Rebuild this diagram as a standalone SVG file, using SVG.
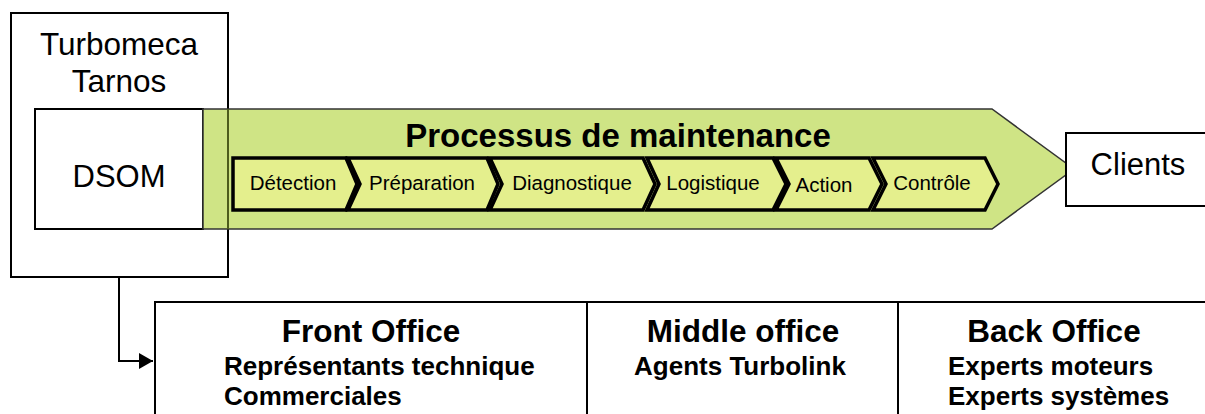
<svg xmlns="http://www.w3.org/2000/svg" width="1205" height="414" viewBox="0 0 1205 414">
<style>
.box{fill:#fff;stroke:#000;stroke-width:2}
.t{font-family:"Liberation Sans",Arial,sans-serif;fill:#000}
.b{font-weight:bold}
.chev{fill:#e4ef8d;stroke:#000;stroke-width:3.5;stroke-linejoin:miter}
.ct{font-family:"Liberation Sans",Arial,sans-serif;font-size:20.5px;text-anchor:middle}
.h{font-size:31.5px;text-anchor:middle}
.s{font-size:26px}
</style>
<defs>
<marker id="arr" markerWidth="14" markerHeight="16" refX="14" refY="8" orient="auto" markerUnits="userSpaceOnUse">
<path d="M0,0 L14,8 L0,16 Z" fill="#000"/>
</marker>
</defs>
<g id="turbomeca">
<rect class="box" x="11" y="13" width="217" height="264"/>
<text class="t" x="119" y="55" font-size="31.5" text-anchor="middle">Turbomeca</text>
<text class="t" x="119" y="92" font-size="31.5" text-anchor="middle">Tarnos</text>
</g>
<g id="dsom">
<rect class="box" x="35" y="109" width="168" height="120"/>
<text class="t" x="119" y="187" font-size="31" text-anchor="middle">DSOM</text>
</g>
<g id="processus">
<polygon points="203,109 992,109 1074,169 992,229 203,229" fill="#cfe485" stroke="#333" stroke-width="1.5"/>
<line x1="228" y1="109" x2="228" y2="229" stroke="#4e5c1c" stroke-width="2"/>
<text class="t b" x="618" y="147" font-size="33" text-anchor="middle">Processus de maintenance</text>
</g>
<g id="detection">
<polygon class="chev" points="233,158 346,158 357,184 346,210 233,210"/>
<text class="ct" x="293" y="190">Détection</text>
</g>
<g id="preparation">
<polygon class="chev" points="348,158 487,158 498,184 487,210 348,210 360,184"/>
<text class="ct" x="422" y="190">Préparation</text>
</g>
<g id="diagnostique">
<polygon class="chev" points="490,158 643,158 655,184 643,210 490,210 502,184"/>
<text class="ct" x="572" y="190">Diagnostique</text>
</g>
<g id="logistique">
<polygon class="chev" points="647,158 773,158 786,184 773,210 647,210 659,184"/>
<text class="ct" x="713" y="190">Logistique</text>
</g>
<g id="action">
<polygon class="chev" points="776,158 869,158 882,184 869,210 776,210 789,184"/>
<text class="ct" x="824" y="192">Action</text>
</g>
<g id="controle">
<polygon class="chev" points="873,158 985,158 998,184 985,210 873,210 886,184"/>
<text class="ct" x="932" y="190">Contrôle</text>
</g>
<g id="clients">
<rect class="box" x="1066" y="133" width="150" height="73"/>
<text class="t" x="1138" y="175" font-size="31" text-anchor="middle">Clients</text>
</g>
<g id="offices">
<rect class="box" x="155" y="302" width="1070" height="130"/>
<line x1="587" y1="302" x2="587" y2="414" stroke="#000" stroke-width="2"/>
<line x1="898" y1="302" x2="898" y2="414" stroke="#000" stroke-width="2"/>
</g>
<g id="front-office">
<text class="t b h" x="371" y="342">Front Office</text>
<text class="t b s" x="224" y="375">Représentants technique</text>
<text class="t b s" x="224" y="405">Commerciales</text>
</g>
<g id="middle-office">
<text class="t b h" x="743" y="342">Middle office</text>
<text class="t b s" x="740" y="375" text-anchor="middle">Agents Turbolink</text>
</g>
<g id="back-office">
<text class="t b h" x="1054" y="342">Back Office</text>
<text class="t b s" x="948" y="375">Experts moteurs</text>
<text class="t b s" x="948" y="405">Experts systèmes</text>
</g>
<g id="connectors">
<path d="M119,277 V361 H153" fill="none" stroke="#000" stroke-width="2" marker-end="url(#arr)"/>
</g>
</svg>
